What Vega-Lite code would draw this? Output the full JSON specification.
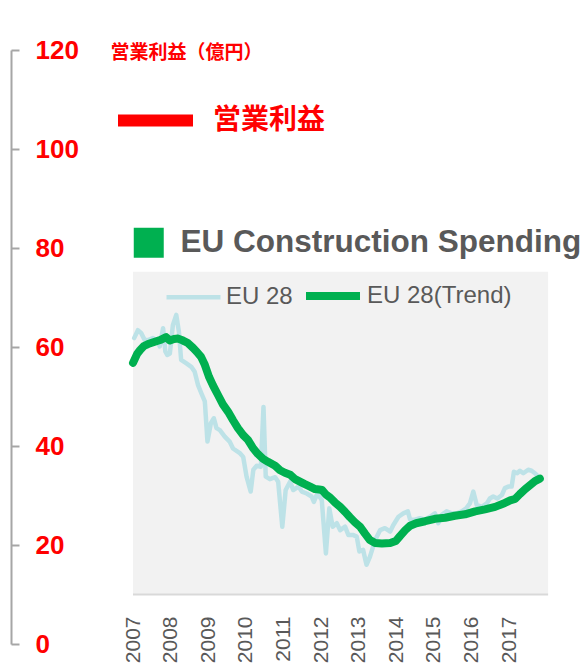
{
  "$schema": "https://vega.github.io/schema/vega-lite/v6.json",
  "width": 576,
  "height": 594,
  "autosize": {"type": "none"},
  "padding": {"left": 11, "top": 50, "right": 0, "bottom": 19},
  "background": "white",
  "config": {"view": {"stroke": null}},
  "resolve": {"scale": {"fill": "independent"}},
  "layer": [
    {
      "data": {"values": [{}]},
      "mark": {"type": "rect", "color": "#f2f2f2"},
      "encoding": {
        "x": {
          "datum": 2007, "type": "quantitative",
          "scale": {"domain": [2003.755, 2019.074], "nice": false, "zero": false},
          "axis": {
            "orient": "bottom", "values": [2007, 2008, 2009, 2010, 2011, 2012, 2013, 2014, 2015, 2016, 2017],
            "format": "d", "labelAngle": 270, "domain": false, "ticks": false, "grid": false, "title": null,
            "offset": -28, "labelPadding": 0, "labelFont": "Liberation Sans", "labelFontSize": 21,
            "labelColor": "#595959", "labelOverlap": false, "labelFlush": false, "labelBound": false
          }
        },
        "x2": {"datum": 2018.04},
        "y": {
          "datum": 10, "type": "quantitative",
          "scale": {"domain": [0, 120], "nice": false, "zero": true},
          "axis": {
            "orient": "left", "values": [0, 20, 40, 60, 80, 100, 120], "grid": false,
            "domainColor": "#a6a6a6", "domainWidth": 2, "tickColor": "#a6a6a6", "tickWidth": 2,
            "tickSize": -8, "labelPadding": -16, "labelAlign": "left", "labelBaseline": "middle",
            "labelFont": "Liberation Sans", "labelFontWeight": "bold", "labelFontSize": 26, "labelColor": "#ff0000",
            "labelBound": false, "labelFlush": false, "labelOverlap": false,
            "title": "営業利益（億円）", "titleAngle": 0, "titleX": 99, "titleY": 2, "titleAlign": "left",
            "titleBaseline": "middle", "titleFont": "Noto Sans CJK JP", "titleFontWeight": "bold",
            "titleFontSize": 19, "titleColor": "#ff0000"
          }
        },
        "y2": {"datum": 75.2}
      }
    },
    {
      "data": {"values": [{}]},
      "mark": {"type": "rule", "color": "#d9d9d9", "strokeWidth": 2},
      "encoding": {
        "x": {"datum": 2007, "type": "quantitative"},
        "x2": {"datum": 2018.04},
        "y": {"datum": 10, "type": "quantitative"}
      }
    },
    {
      "data": {"values": [
        {"series": "EU 28", "t": 2007.03, "v": 61.8},
        {"series": "EU 28", "t": 2007.13, "v": 63.4},
        {"series": "EU 28", "t": 2007.22, "v": 62.8},
        {"series": "EU 28", "t": 2007.31, "v": 61.4},
        {"series": "EU 28", "t": 2007.40, "v": 61.4},
        {"series": "EU 28", "t": 2007.53, "v": 61.8},
        {"series": "EU 28", "t": 2007.66, "v": 61.1},
        {"series": "EU 28", "t": 2007.71, "v": 60.1},
        {"series": "EU 28", "t": 2007.80, "v": 63.8},
        {"series": "EU 28", "t": 2007.86, "v": 59.1},
        {"series": "EU 28", "t": 2007.91, "v": 58.4},
        {"series": "EU 28", "t": 2007.98, "v": 58.7},
        {"series": "EU 28", "t": 2008.06, "v": 64.4},
        {"series": "EU 28", "t": 2008.15, "v": 66.5},
        {"series": "EU 28", "t": 2008.22, "v": 63.1},
        {"series": "EU 28", "t": 2008.28, "v": 57.4},
        {"series": "EU 28", "t": 2008.42, "v": 56.7},
        {"series": "EU 28", "t": 2008.55, "v": 56.0},
        {"series": "EU 28", "t": 2008.64, "v": 55.0},
        {"series": "EU 28", "t": 2008.73, "v": 52.3},
        {"series": "EU 28", "t": 2008.82, "v": 50.6},
        {"series": "EU 28", "t": 2008.91, "v": 49.0},
        {"series": "EU 28", "t": 2008.98, "v": 40.9},
        {"series": "EU 28", "t": 2009.07, "v": 44.6},
        {"series": "EU 28", "t": 2009.15, "v": 45.6},
        {"series": "EU 28", "t": 2009.22, "v": 43.6},
        {"series": "EU 28", "t": 2009.31, "v": 43.2},
        {"series": "EU 28", "t": 2009.44, "v": 41.9},
        {"series": "EU 28", "t": 2009.57, "v": 40.9},
        {"series": "EU 28", "t": 2009.66, "v": 39.5},
        {"series": "EU 28", "t": 2009.85, "v": 38.5},
        {"series": "EU 28", "t": 2009.93, "v": 37.8},
        {"series": "EU 28", "t": 2010.02, "v": 33.8},
        {"series": "EU 28", "t": 2010.13, "v": 30.8},
        {"series": "EU 28", "t": 2010.20, "v": 35.2},
        {"series": "EU 28", "t": 2010.29, "v": 36.0},
        {"series": "EU 28", "t": 2010.40, "v": 35.8},
        {"series": "EU 28", "t": 2010.47, "v": 47.9},
        {"series": "EU 28", "t": 2010.53, "v": 33.8},
        {"series": "EU 28", "t": 2010.64, "v": 33.3},
        {"series": "EU 28", "t": 2010.78, "v": 33.7},
        {"series": "EU 28", "t": 2010.86, "v": 32.8},
        {"series": "EU 28", "t": 2010.97, "v": 23.7},
        {"series": "EU 28", "t": 2011.06, "v": 31.1},
        {"series": "EU 28", "t": 2011.18, "v": 32.8},
        {"series": "EU 28", "t": 2011.26, "v": 31.1},
        {"series": "EU 28", "t": 2011.40, "v": 31.8},
        {"series": "EU 28", "t": 2011.49, "v": 30.8},
        {"series": "EU 28", "t": 2011.62, "v": 30.4},
        {"series": "EU 28", "t": 2011.75, "v": 29.8},
        {"series": "EU 28", "t": 2011.81, "v": 28.7},
        {"series": "EU 28", "t": 2011.90, "v": 30.4},
        {"series": "EU 28", "t": 2012.02, "v": 29.1},
        {"series": "EU 28", "t": 2012.13, "v": 18.3},
        {"series": "EU 28", "t": 2012.22, "v": 27.4},
        {"series": "EU 28", "t": 2012.31, "v": 23.7},
        {"series": "EU 28", "t": 2012.42, "v": 24.4},
        {"series": "EU 28", "t": 2012.51, "v": 23.0},
        {"series": "EU 28", "t": 2012.64, "v": 23.7},
        {"series": "EU 28", "t": 2012.73, "v": 22.0},
        {"series": "EU 28", "t": 2012.86, "v": 22.0},
        {"series": "EU 28", "t": 2012.95, "v": 21.7},
        {"series": "EU 28", "t": 2013.02, "v": 18.7},
        {"series": "EU 28", "t": 2013.12, "v": 19.0},
        {"series": "EU 28", "t": 2013.21, "v": 16.0},
        {"series": "EU 28", "t": 2013.30, "v": 17.6},
        {"series": "EU 28", "t": 2013.44, "v": 21.0},
        {"series": "EU 28", "t": 2013.57, "v": 23.0},
        {"series": "EU 28", "t": 2013.70, "v": 23.4},
        {"series": "EU 28", "t": 2013.84, "v": 22.7},
        {"series": "EU 28", "t": 2013.92, "v": 24.0},
        {"series": "EU 28", "t": 2014.06, "v": 25.7},
        {"series": "EU 28", "t": 2014.19, "v": 26.4},
        {"series": "EU 28", "t": 2014.31, "v": 26.8},
        {"series": "EU 28", "t": 2014.37, "v": 25.1},
        {"series": "EU 28", "t": 2014.50, "v": 25.1},
        {"series": "EU 28", "t": 2014.63, "v": 25.4},
        {"series": "EU 28", "t": 2014.77, "v": 25.1},
        {"series": "EU 28", "t": 2014.90, "v": 25.7},
        {"series": "EU 28", "t": 2015.03, "v": 26.4},
        {"series": "EU 28", "t": 2015.12, "v": 24.4},
        {"series": "EU 28", "t": 2015.21, "v": 26.1},
        {"series": "EU 28", "t": 2015.34, "v": 26.8},
        {"series": "EU 28", "t": 2015.48, "v": 26.4},
        {"series": "EU 28", "t": 2015.61, "v": 26.4},
        {"series": "EU 28", "t": 2015.74, "v": 26.8},
        {"series": "EU 28", "t": 2015.86, "v": 27.4},
        {"series": "EU 28", "t": 2015.96, "v": 28.4},
        {"series": "EU 28", "t": 2016.05, "v": 30.8},
        {"series": "EU 28", "t": 2016.14, "v": 28.1},
        {"series": "EU 28", "t": 2016.27, "v": 27.7},
        {"series": "EU 28", "t": 2016.41, "v": 28.4},
        {"series": "EU 28", "t": 2016.49, "v": 29.4},
        {"series": "EU 28", "t": 2016.58, "v": 29.8},
        {"series": "EU 28", "t": 2016.69, "v": 29.4},
        {"series": "EU 28", "t": 2016.81, "v": 30.1},
        {"series": "EU 28", "t": 2016.89, "v": 31.5},
        {"series": "EU 28", "t": 2016.98, "v": 31.8},
        {"series": "EU 28", "t": 2017.07, "v": 31.8},
        {"series": "EU 28", "t": 2017.13, "v": 34.8},
        {"series": "EU 28", "t": 2017.22, "v": 34.5},
        {"series": "EU 28", "t": 2017.29, "v": 35.0},
        {"series": "EU 28", "t": 2017.38, "v": 34.5},
        {"series": "EU 28", "t": 2017.51, "v": 35.2},
        {"series": "EU 28", "t": 2017.60, "v": 35.0},
        {"series": "EU 28", "t": 2017.69, "v": 34.5},
        {"series": "EU 28", "t": 2017.78, "v": 33.8},
        {"series": "EU 28(Trend)", "t": 2007.00, "v": 56.8},
        {"series": "EU 28(Trend)", "t": 2007.11, "v": 58.6},
        {"series": "EU 28(Trend)", "t": 2007.19, "v": 59.4},
        {"series": "EU 28(Trend)", "t": 2007.29, "v": 60.2},
        {"series": "EU 28(Trend)", "t": 2007.40, "v": 60.6},
        {"series": "EU 28(Trend)", "t": 2007.56, "v": 61.0},
        {"series": "EU 28(Trend)", "t": 2007.72, "v": 61.4},
        {"series": "EU 28(Trend)", "t": 2007.88, "v": 62.0},
        {"series": "EU 28(Trend)", "t": 2007.98, "v": 61.3},
        {"series": "EU 28(Trend)", "t": 2008.09, "v": 61.6},
        {"series": "EU 28(Trend)", "t": 2008.20, "v": 61.7},
        {"series": "EU 28(Trend)", "t": 2008.33, "v": 61.3},
        {"series": "EU 28(Trend)", "t": 2008.46, "v": 60.8},
        {"series": "EU 28(Trend)", "t": 2008.60, "v": 59.8},
        {"series": "EU 28(Trend)", "t": 2008.70, "v": 59.0},
        {"series": "EU 28(Trend)", "t": 2008.81, "v": 58.0},
        {"series": "EU 28(Trend)", "t": 2008.91, "v": 56.4},
        {"series": "EU 28(Trend)", "t": 2009.02, "v": 54.0},
        {"series": "EU 28(Trend)", "t": 2009.13, "v": 52.2},
        {"series": "EU 28(Trend)", "t": 2009.26, "v": 50.3},
        {"series": "EU 28(Trend)", "t": 2009.39, "v": 48.4},
        {"series": "EU 28(Trend)", "t": 2009.53, "v": 46.9},
        {"series": "EU 28(Trend)", "t": 2009.66, "v": 45.2},
        {"series": "EU 28(Trend)", "t": 2009.79, "v": 43.6},
        {"series": "EU 28(Trend)", "t": 2009.93, "v": 42.2},
        {"series": "EU 28(Trend)", "t": 2010.06, "v": 41.2},
        {"series": "EU 28(Trend)", "t": 2010.19, "v": 39.6},
        {"series": "EU 28(Trend)", "t": 2010.32, "v": 38.4},
        {"series": "EU 28(Trend)", "t": 2010.46, "v": 37.4},
        {"series": "EU 28(Trend)", "t": 2010.59, "v": 36.8},
        {"series": "EU 28(Trend)", "t": 2010.78, "v": 36.0},
        {"series": "EU 28(Trend)", "t": 2010.91, "v": 35.1},
        {"series": "EU 28(Trend)", "t": 2011.04, "v": 34.6},
        {"series": "EU 28(Trend)", "t": 2011.18, "v": 34.2},
        {"series": "EU 28(Trend)", "t": 2011.31, "v": 33.3},
        {"series": "EU 28(Trend)", "t": 2011.44, "v": 32.8},
        {"series": "EU 28(Trend)", "t": 2011.57, "v": 32.3},
        {"series": "EU 28(Trend)", "t": 2011.71, "v": 31.8},
        {"series": "EU 28(Trend)", "t": 2011.84, "v": 31.3},
        {"series": "EU 28(Trend)", "t": 2011.95, "v": 31.2},
        {"series": "EU 28(Trend)", "t": 2012.03, "v": 31.1},
        {"series": "EU 28(Trend)", "t": 2012.13, "v": 30.2},
        {"series": "EU 28(Trend)", "t": 2012.24, "v": 29.6},
        {"series": "EU 28(Trend)", "t": 2012.37, "v": 28.6},
        {"series": "EU 28(Trend)", "t": 2012.51, "v": 27.7},
        {"series": "EU 28(Trend)", "t": 2012.64, "v": 26.7},
        {"series": "EU 28(Trend)", "t": 2012.77, "v": 25.6},
        {"series": "EU 28(Trend)", "t": 2012.90, "v": 24.6},
        {"series": "EU 28(Trend)", "t": 2013.04, "v": 23.7},
        {"series": "EU 28(Trend)", "t": 2013.17, "v": 22.3},
        {"series": "EU 28(Trend)", "t": 2013.30, "v": 21.0},
        {"series": "EU 28(Trend)", "t": 2013.44, "v": 20.4},
        {"series": "EU 28(Trend)", "t": 2013.62, "v": 20.3},
        {"series": "EU 28(Trend)", "t": 2013.84, "v": 20.4},
        {"series": "EU 28(Trend)", "t": 2013.99, "v": 20.8},
        {"series": "EU 28(Trend)", "t": 2014.10, "v": 21.8},
        {"series": "EU 28(Trend)", "t": 2014.24, "v": 23.0},
        {"series": "EU 28(Trend)", "t": 2014.37, "v": 23.9},
        {"series": "EU 28(Trend)", "t": 2014.53, "v": 24.4},
        {"series": "EU 28(Trend)", "t": 2014.77, "v": 24.8},
        {"series": "EU 28(Trend)", "t": 2015.03, "v": 25.3},
        {"series": "EU 28(Trend)", "t": 2015.30, "v": 25.5},
        {"series": "EU 28(Trend)", "t": 2015.56, "v": 25.9},
        {"series": "EU 28(Trend)", "t": 2015.83, "v": 26.2},
        {"series": "EU 28(Trend)", "t": 2016.10, "v": 26.8},
        {"series": "EU 28(Trend)", "t": 2016.36, "v": 27.2},
        {"series": "EU 28(Trend)", "t": 2016.63, "v": 27.7},
        {"series": "EU 28(Trend)", "t": 2016.89, "v": 28.5},
        {"series": "EU 28(Trend)", "t": 2017.03, "v": 29.0},
        {"series": "EU 28(Trend)", "t": 2017.16, "v": 29.3},
        {"series": "EU 28(Trend)", "t": 2017.29, "v": 30.3},
        {"series": "EU 28(Trend)", "t": 2017.43, "v": 31.3},
        {"series": "EU 28(Trend)", "t": 2017.56, "v": 32.1},
        {"series": "EU 28(Trend)", "t": 2017.69, "v": 32.9},
        {"series": "EU 28(Trend)", "t": 2017.82, "v": 33.4}
      ]},
      "mark": {"type": "line", "strokeCap": "round", "strokeJoin": "round"},
      "encoding": {
        "x": {"field": "t", "type": "quantitative"},
        "y": {"field": "v", "type": "quantitative"},
        "color": {
          "field": "series", "type": "ordinal",
          "scale": {"domain": ["EU 28", "EU 28(Trend)"], "range": ["#bde2e7", "#00b050"]},
          "legend": {
            "title": null, "orient": "none", "legendX": 153, "legendY": 215, "direction": "horizontal",
            "symbolType": "stroke", "symbolSize": 2916, "labelFont": "Liberation Sans", "labelFontSize": 24,
            "labelColor": "#595959", "labelOffset": 3, "columnPadding": -3, "padding": 0, "labelLimit": 400
          }
        },
        "strokeWidth": {
          "field": "series", "type": "ordinal",
          "scale": {"domain": ["EU 28", "EU 28(Trend)"], "range": [4.5, 8]},
          "legend": {
            "title": null, "orient": "none", "legendX": 153, "legendY": 215, "direction": "horizontal",
            "symbolType": "stroke", "symbolSize": 2916, "labelFont": "Liberation Sans", "labelFontSize": 24,
            "labelColor": "#595959", "labelOffset": 3, "columnPadding": -3, "padding": 0, "labelLimit": 400
          }
        }
      }
    },
    {
      "data": {"values": [{"k": "営業利益"}]},
      "mark": {"type": "point", "filled": true, "opacity": 0},
      "encoding": {
        "fill": {
          "field": "k", "type": "nominal",
          "scale": {"range": ["#ff0000"]},
          "legend": {
            "title": null, "orient": "none", "legendX": 107, "legendY": 33,
            "symbolType": "M-1,-0.16L1,-0.16L1,0.16L-1,0.16Z", "symbolSize": 5625, "symbolOpacity": 1,
            "symbolStrokeWidth": 0, "labelFont": "Noto Sans CJK JP", "labelFontWeight": "bold",
            "labelFontSize": 28, "labelColor": "#ff0000", "labelOffset": 20, "padding": 0, "labelLimit": 400
          }
        }
      }
    },
    {
      "data": {"values": [{"k": "EU Construction Spending"}]},
      "mark": {"type": "point", "filled": true, "opacity": 0},
      "encoding": {
        "fill": {
          "field": "k", "type": "nominal",
          "scale": {"range": ["#00b050"]},
          "legend": {
            "title": null, "orient": "none", "legendX": 122, "legendY": 177,
            "symbolType": "square", "symbolSize": 900, "symbolOpacity": 1, "symbolStrokeWidth": 0,
            "labelFont": "Liberation Sans", "labelFontWeight": "bold", "labelFontSize": 31.5,
            "labelColor": "#595959", "labelOffset": 16, "padding": 0, "labelLimit": 500
          }
        }
      }
    }
  ]
}
